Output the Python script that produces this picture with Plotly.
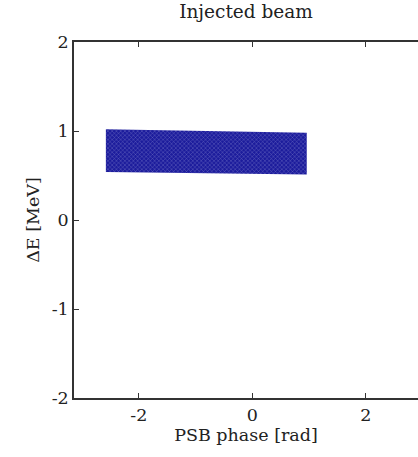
import plotly.graph_objects as go

# Beam outline (phase in rad, energy offset in MeV)
beam_phase = [-2.58, 0.96, 0.96, -2.58, -2.58]
beam_dE = [0.54, 0.51, 0.98, 1.02, 0.54]

x_ticks = [-2, 0, 2]
x_labels = ["-2", "0", "2"]
y_ticks = [-2, -1, 0, 1, 2]
y_labels = ["-2", "-1", "0", "1", "2"]

font = "DejaVu Serif, serif"
fs = 17.5

fig = go.Figure()
fig.add_trace(go.Scatter(
    x=beam_phase, y=beam_dE, mode="lines", fill="toself",
    line=dict(width=0, color="rgba(0,0,0,0)"),
    fillcolor="#1c1c9c",
    fillpattern=dict(shape="x", size=3, solidity=0.25,
                     fgcolor="#c4c4ec", bgcolor="#1c1c9c"),
    hoverinfo="skip", showlegend=False,
))

fig.update_layout(
    width=418, height=457,
    margin=dict(l=74, r=0, t=42, b=59),
    paper_bgcolor="white", plot_bgcolor="white",
    font=dict(family=font, size=fs, color="#222"),
    title=dict(text="Injected beam", x=0.5, xref="paper", xanchor="center",
               y=1, yref="container", yanchor="top", pad=dict(t=5),
               font=dict(family=font, size=18.5, color="#222")),
    showlegend=False,
)
fig.update_xaxes(
    range=[-3.1416, 2.92], tickvals=x_ticks, ticktext=x_labels,
    ticks="inside", ticklen=5, tickcolor="#333", showline=True,
    linecolor="#333", linewidth=1.5, mirror="allticks",
    showgrid=False, zeroline=False,
    tickfont=dict(family=font, size=fs, color="#222"),
    title=dict(text="PSB phase [rad]", standoff=4,
               font=dict(family=font, size=fs, color="#222")),
)
fig.update_yaxes(
    range=[-2, 2], tickvals=y_ticks, ticktext=y_labels,
    ticks="inside", ticklen=5, tickcolor="#333", showline=True,
    linecolor="#333", linewidth=1.5, mirror=False,
    showgrid=False, zeroline=False,
    tickfont=dict(family=font, size=fs, color="#222"),
    title=dict(text="ΔE [MeV]", standoff=8,
               font=dict(family=font, size=fs, color="#222")),
)

fig.write_html("out.html", config={"displayModeBar": False},
               post_script="document.body.style.margin='0';document.body.style.overflow='hidden';")
